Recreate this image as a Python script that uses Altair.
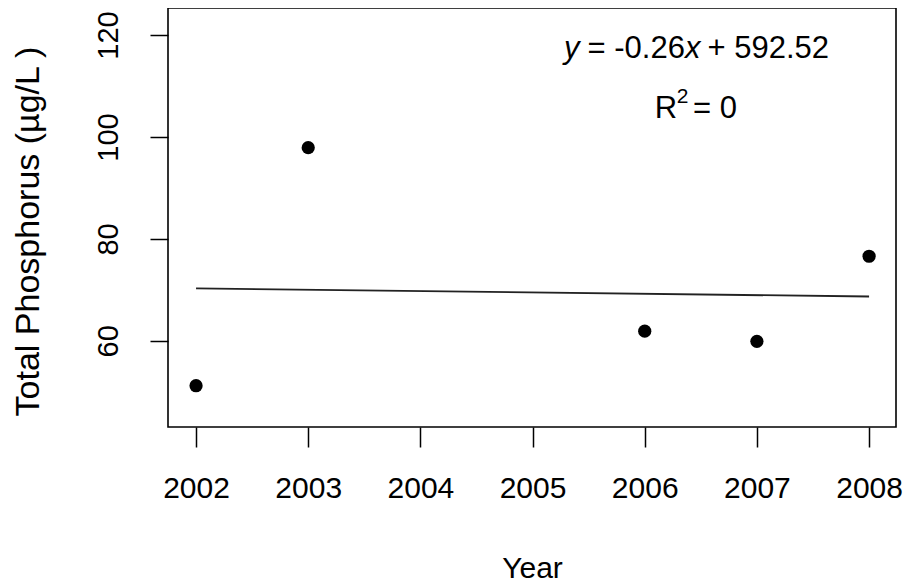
import altair as alt
import pandas as pd

# Observed data
years = [2002, 2003, 2006, 2007, 2008]
tp = [51.2, 97.9, 61.9, 59.9, 76.6]

# Fitted regression line endpoints (y = -0.26x + 592.52)
fit_years = [2002, 2008]
fit_tp = [70.3, 68.7]

x_ticks = [2002, 2003, 2004, 2005, 2006, 2007, 2008]
y_ticks = [60, 80, 100, 120]

x_domain = [2001.75, 2008.24]
y_domain = [43.1, 125.3]

# Annotation pieces (text, x, y) in data coordinates
eq_italic_text = ["y", "x"]
eq_italic_x = [2005.28, 2006.36]
eq_italic_y = [115.5, 115.5]

eq_plain_text = ["= -0.26", "+ 592.52", "R", "= 0"]
eq_plain_x = [2005.49, 2006.56, 2006.09, 2006.43]
eq_plain_y = [115.5, 115.5, 103.7, 103.7]

sup_text = ["2"]
sup_x = [2006.285]
sup_y = [106.6]

FONT = "Liberation Sans"

pts = pd.DataFrame({"Year": years, "TP": tp})
fit = pd.DataFrame({"Year": fit_years, "TP": fit_tp})
ital = pd.DataFrame({"t": eq_italic_text, "Year": eq_italic_x, "TP": eq_italic_y})
plain = pd.DataFrame({"t": eq_plain_text, "Year": eq_plain_x, "TP": eq_plain_y})
sup = pd.DataFrame({"t": sup_text, "Year": sup_x, "TP": sup_y})

x_enc = alt.X(
    "Year:Q",
    scale=alt.Scale(domain=x_domain, nice=False, zero=False),
    axis=alt.Axis(
        values=x_ticks, format="d", title="Year",
        tickSize=20, tickWidth=1.5, tickColor="black",
        labelFontSize=30, labelColor="black", labelFont=FONT,
        labelPadding=26, labelBaseline="top", labelFlush=False,
        titleFontSize=30, titleFont=FONT, titleFontWeight="normal",
        titleColor="black", titleY=150, titleBaseline="alphabetic",
    ),
)
y_enc = alt.Y(
    "TP:Q",
    scale=alt.Scale(domain=y_domain, nice=False, zero=False),
    axis=alt.Axis(
        values=y_ticks, title="Total Phosphorus (µg/L )",
        tickSize=18, tickWidth=1.5, tickColor="black",
        labelFontSize=29, labelColor="black", labelFont=FONT,
        labelAngle=270, labelAlign="center", labelBaseline="bottom",
        labelPadding=27, labelFlush=False,
        titleFontSize=34, titleFont=FONT, titleFontWeight="normal",
        titleColor="black", titleAngle=270, titleX=-130, titleY=223,
        titleAlign="center", titleBaseline="alphabetic",
    ),
)

points = alt.Chart(pts).mark_circle(size=175, color="black", opacity=1).encode(x=x_enc, y=y_enc)
line = alt.Chart(fit).mark_line(color="#222222", strokeWidth=1.8).encode(x="Year:Q", y="TP:Q")

t_ital = alt.Chart(ital).mark_text(
    font=FONT, fontSize=31, fontStyle="italic", align="left", baseline="alphabetic", color="black"
).encode(x="Year:Q", y="TP:Q", text="t:N")
t_plain = alt.Chart(plain).mark_text(
    font=FONT, fontSize=31, align="left", baseline="alphabetic", color="black"
).encode(x="Year:Q", y="TP:Q", text="t:N")
t_sup = alt.Chart(sup).mark_text(
    font=FONT, fontSize=21, align="left", baseline="alphabetic", color="black"
).encode(x="Year:Q", y="TP:Q", text="t:N")

chart = alt.layer(line, points, t_ital, t_plain, t_sup).properties(
    width=728, height=419,
    autosize=alt.AutoSizeParams(type="none"),
    padding={"left": 160, "top": 0, "right": 7, "bottom": 160},
    background="white",
).configure_view(stroke="black", strokeWidth=1.6).configure_axis(
    grid=False, domain=False
)

chart.save("out.html", embed_options={"renderer": "svg", "actions": False})
